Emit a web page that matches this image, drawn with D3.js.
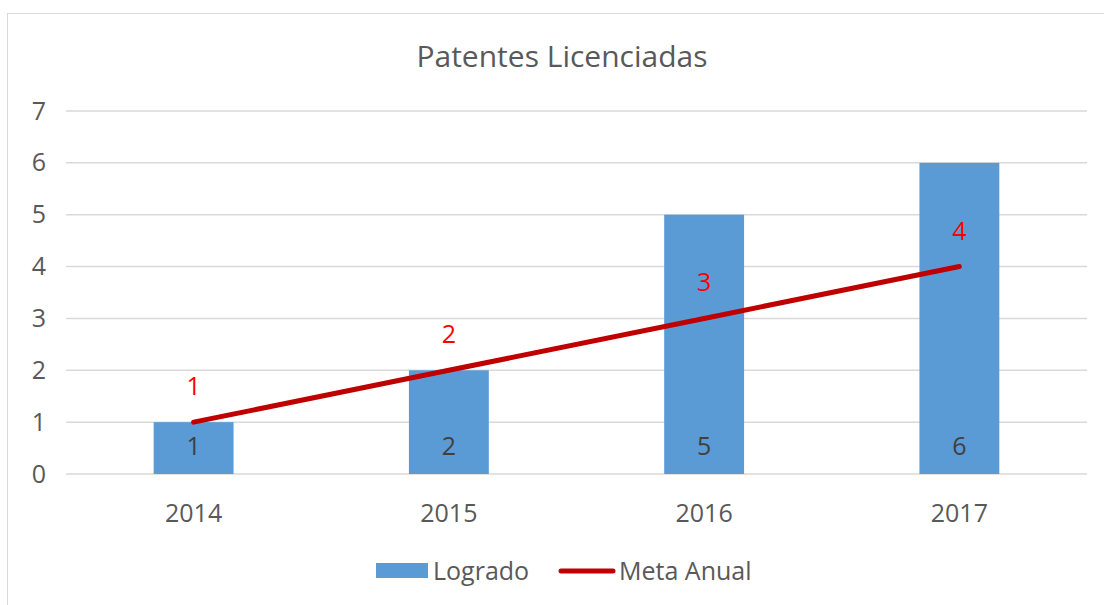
<!DOCTYPE html>
<html>
<head>
<meta charset="utf-8">
<script src="https://cdn.jsdelivr.net/npm/d3@7"></script>
<style>
  body { margin: 0; background: #fff; }
  text { font-family: "Open Sans", sans-serif; }
</style>
</head>
<body>
<div id="chart"></div>
<script>
const years = ["2014", "2015", "2016", "2017"];
const logrado = [1, 2, 5, 6];
const meta = [1, 2, 3, 4];
const yTicks = [0, 1, 2, 3, 4, 5, 6, 7];

const width = 1104, height = 605;
const margin = { top: 111, right: 17, bottom: 131, left: 66 };

const svg = d3.select("#chart").append("svg")
  .attr("width", width)
  .attr("height", height);

// outer chart border
svg.append("rect")
  .attr("x", 7.5).attr("y", 13.5)
  .attr("width", width).attr("height", height)
  .attr("fill", "#fff")
  .attr("stroke", "#d9d9d9");

const x = d3.scaleBand()
  .domain(years)
  .range([margin.left, width - margin.right])
  .paddingInner(0.687)
  .paddingOuter(0.3435);

const y = d3.scaleLinear()
  .domain([0, 7])
  .range([height - margin.bottom, margin.top]);

svg.append("text")
  .attr("x", 562).attr("y", 67)
  .attr("text-anchor", "middle")
  .attr("fill", "#595959")
  .style("font-size", "30px")
  .text("Patentes Licenciadas");

// gridlines
svg.append("g")
  .selectAll("line")
  .data(yTicks)
  .join("line")
  .attr("x1", margin.left).attr("x2", width - margin.right)
  .attr("y1", d => y(d)).attr("y2", d => y(d))
  .attr("stroke", "#d9d9d9")
  .attr("stroke-width", 1.5);

const yAxis = svg.append("g")
  .attr("transform", `translate(${margin.left - 20},0)`)
  .call(d3.axisLeft(y).tickValues(yTicks).tickFormat(d3.format("d")).tickSize(0).tickPadding(0));
yAxis.select(".domain").remove();
yAxis.selectAll("text")
  .attr("fill", "#595959")
  .style("font-size", "25px");

const xAxis = svg.append("g")
  .attr("transform", `translate(0,${y(0) + 30})`)
  .call(d3.axisBottom(x).tickSize(0).tickPadding(0));
xAxis.select(".domain").remove();
xAxis.selectAll("text")
  .attr("fill", "#595959")
  .attr("dy", "0.71em")
  .style("font-size", "25px");

// bars
svg.append("g")
  .selectAll("rect")
  .data(logrado)
  .join("rect")
  .attr("x", (d, i) => x(years[i]))
  .attr("y", d => y(d))
  .attr("width", x.bandwidth())
  .attr("height", d => y(0) - y(d))
  .attr("fill", "#5b9bd5");

svg.append("g")
  .selectAll("text")
  .data(logrado)
  .join("text")
  .attr("x", (d, i) => x(years[i]) + x.bandwidth() / 2)
  .attr("y", y(0) - 19)
  .attr("text-anchor", "middle")
  .attr("fill", "#404040")
  .style("font-size", "25px")
  .text(d => d);

// meta line
const line = d3.line()
  .x((d, i) => x(years[i]) + x.bandwidth() / 2)
  .y(d => y(d));

svg.append("path")
  .datum(meta)
  .attr("d", line)
  .attr("fill", "none")
  .attr("stroke", "#c00000")
  .attr("stroke-width", 5)
  .attr("stroke-linecap", "round");

svg.append("g")
  .selectAll("text")
  .data(meta)
  .join("text")
  .attr("x", (d, i) => x(years[i]) + x.bandwidth() / 2)
  .attr("y", d => y(d) - 27)
  .attr("text-anchor", "middle")
  .attr("fill", "#ff0000")
  .style("font-size", "25px")
  .text(d => d);

// legend
const legend = svg.append("g");
legend.append("rect")
  .attr("x", 376).attr("y", 563)
  .attr("width", 52).attr("height", 15)
  .attr("fill", "#5b9bd5");
legend.append("text")
  .attr("x", 433).attr("y", 580)
  .attr("fill", "#595959")
  .style("font-size", "25px")
  .text("Logrado");
legend.append("line")
  .attr("x1", 561).attr("x2", 613)
  .attr("y1", 571).attr("y2", 571)
  .attr("stroke", "#c00000")
  .attr("stroke-width", 5)
  .attr("stroke-linecap", "round");
legend.append("text")
  .attr("x", 619).attr("y", 580)
  .attr("fill", "#595959")
  .style("font-size", "25px")
  .text("Meta Anual");
</script>
</body>
</html>
